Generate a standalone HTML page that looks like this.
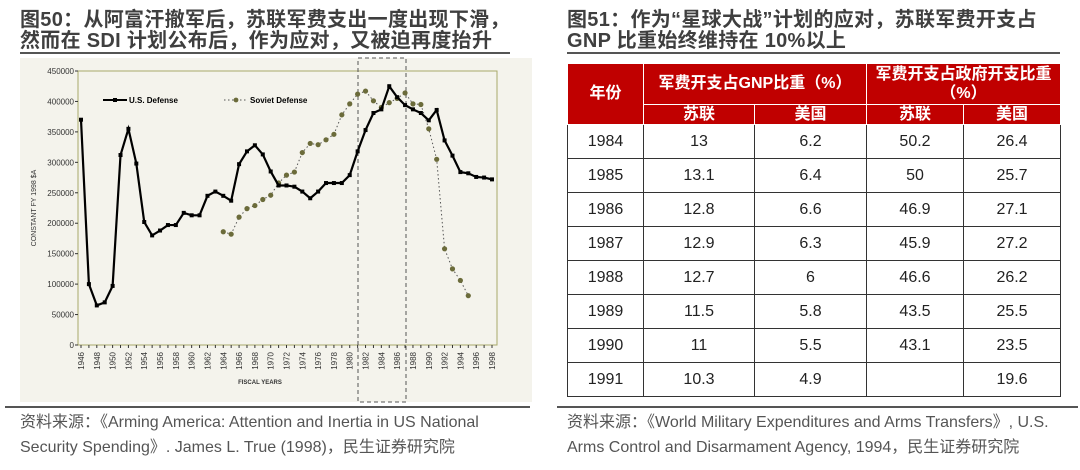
<!DOCTYPE html>
<html><head><meta charset="utf-8"><style>
body{margin:0;width:1080px;height:470px;background:#fff;overflow:hidden;position:relative;font-family:"Liberation Sans","Noto Sans CJK SC",sans-serif}
.title{position:absolute;font-size:20px;font-weight:bold;color:#3f3f3f;line-height:21px;letter-spacing:0.3px}
.rule{position:absolute;height:2px;background:#555}
.foot{position:absolute;font-family:"Liberation Sans Narrow","Liberation Sans","Noto Sans CJK SC",sans-serif;font-size:16px;color:#555;line-height:25px}
table{position:absolute;left:567px;top:63px;border-collapse:collapse;font-size:16px;color:#222;table-layout:fixed;width:493px}
td{border:1px solid #333;text-align:center;padding:0;line-height:16px}
.h td{background:#c00000;color:#fff;font-weight:bold;border-color:#fff}
</style></head><body>
<div class="title" style="left:20px;top:10px">图50：从阿富汗撤军后，苏联军费支出一度出现下滑，<br>然而在 SDI 计划公布后，作为应对，又被迫再度抬升</div>
<div class="rule" style="left:20px;top:52px;width:490px"></div>
<div class="title" style="left:567px;top:10px">图51：作为“星球大战”计划的应对，苏联军费开支占<br>GNP 比重始终维持在 10%以上</div>
<div class="rule" style="left:567px;top:52px;width:493px"></div>

<svg style="position:absolute;left:0;top:0" width="540" height="410" id="chart"></svg>

<table>
<colgroup><col style="width:76px"><col style="width:111px"><col style="width:112px"><col style="width:97px"><col style="width:97px"></colgroup>
<tr class="h" style="height:41px"><td rowspan="2">年份</td><td colspan="2">军费开支占GNP比重（%）</td><td colspan="2" style="line-height:19px">军费开支占政府开支比重<br>（%）</td></tr>
<tr class="h" style="height:20px"><td>苏联</td><td>美国</td><td>苏联</td><td>美国</td></tr>
<tr style="height:34px"><td>1984</td><td>13</td><td>6.2</td><td>50.2</td><td>26.4</td></tr>
<tr style="height:34px"><td>1985</td><td>13.1</td><td>6.4</td><td>50</td><td>25.7</td></tr>
<tr style="height:34px"><td>1986</td><td>12.8</td><td>6.6</td><td>46.9</td><td>27.1</td></tr>
<tr style="height:34px"><td>1987</td><td>12.9</td><td>6.3</td><td>45.9</td><td>27.2</td></tr>
<tr style="height:34px"><td>1988</td><td>12.7</td><td>6</td><td>46.6</td><td>26.2</td></tr>
<tr style="height:34px"><td>1989</td><td>11.5</td><td>5.8</td><td>43.5</td><td>25.5</td></tr>
<tr style="height:34px"><td>1990</td><td>11</td><td>5.5</td><td>43.1</td><td>23.5</td></tr>
<tr style="height:34px"><td>1991</td><td>10.3</td><td>4.9</td><td></td><td>19.6</td></tr>
</table>

<div class="rule" style="left:5px;top:406px;width:525px"></div>
<div class="rule" style="left:557px;top:406px;width:521px"></div>
<div class="foot" style="left:20px;top:410px">资料来源：《Arming America: Attention and Inertia in US National<br>Security Spending》. James L. True (1998)，民生证券研究院</div>
<div class="foot" style="left:567px;top:410px">资料来源：《World Military Expenditures and Arms Transfers》, U.S.<br>Arms Control and Disarmament Agency, 1994，民生证券研究院</div>

<script>
const usYears=[1946,1947,1948,1949,1950,1951,1952,1953,1954,1955,1956,1957,1958,1959,1960,1961,1962,1963,1964,1965,1966,1967,1968,1969,1970,1971,1972,1973,1974,1975,1976,1977,1978,1979,1980,1981,1982,1983,1984,1985,1986,1987,1988,1989,1990,1991,1992,1993,1994,1995,1996,1997,1998];
const usValues=[370000,100000,65000,70000,97000,312000,355000,298000,202000,180000,188000,197000,197000,217000,213000,213000,245000,252000,245000,237000,297000,318000,328000,313000,285000,262000,262000,260000,252000,241000,252000,266000,266000,266000,279000,318000,353000,381000,387000,425000,407000,394000,387000,381000,369000,386000,336000,311000,284000,282000,276000,275000,272000];
const suYears=[1964,1965,1966,1967,1968,1969,1970,1971,1972,1973,1974,1975,1976,1977,1978,1979,1980,1981,1982,1983,1984,1985,1986,1987,1988,1989,1990,1991,1992,1993,1994,1995];
const suValues=[186000,182000,210000,224000,229000,239000,246000,266000,279000,284000,316000,331000,329000,337000,346000,378000,396000,412000,417000,401000,390000,398000,405000,414000,396000,395000,355000,305000,158000,125000,106000,81000];
const yTicks=[0,50000,100000,150000,200000,250000,300000,350000,400000,450000];
const xTickYears=[1946,1948,1950,1952,1954,1956,1958,1960,1962,1964,1966,1968,1970,1972,1974,1976,1978,1980,1982,1984,1986,1988,1990,1992,1994,1996,1998];

const NS='http://www.w3.org/2000/svg';
const svg=document.getElementById('chart');
const X=y=>81+(y-1946)*(492-81)/52;
const Y=v=>345-v*(345-71)/450000;
function mk(t,a,p){const e=document.createElementNS(NS,t);for(const k in a)e.setAttribute(k,a[k]);(p||svg).appendChild(e);return e;}

const bg=mk('rect',{x:20,y:58,width:512,height:344,fill:'#f4f3ec'});


const frame=mk('rect',{x:78,y:71,width:419,height:274,fill:'none',stroke:'#a9a86a','stroke-width':1});



yTicks.forEach(v=>{
  const t=mk('text',{x:74,y:Y(v)+3,'text-anchor':'end','font-size':8,fill:'#333'});
  t.textContent=v;
  
  
  mk('line',{x1:75,x2:78,y1:Y(v),y2:Y(v),stroke:'#333'});
});
usYears.forEach(y=>mk('line',{x1:X(y),x2:X(y),y1:345,y2:348,stroke:'#333'}));
xTickYears.forEach(y=>{
  const t=mk('text',{x:0,y:0,transform:`translate(${X(y)+3},352) rotate(-90)`,'text-anchor':'end','font-size':8,fill:'#333'});
  t.textContent=y;
  
  
});
const yt=mk('text',{x:0,y:0,transform:'translate(36,208) rotate(-90)','text-anchor':'middle','font-size':7,fill:'#333'});
yt.textContent='CONSTANT FY 1998 $A';


const xt=mk('text',{x:260,y:384,'text-anchor':'middle','font-size':6,'font-weight':'bold',fill:'#333'});
xt.textContent='FISCAL YEARS';



const box=mk('rect',{x:358,y:58,width:48,height:344,fill:'none',stroke:'#555','stroke-dasharray':'4,3','stroke-width':1});



const sl=mk('polyline',{points:suYears.map((y,i)=>X(y)+','+Y(suValues[i])).join(' '),fill:'none',stroke:'#555','stroke-width':1,'stroke-dasharray':'1.5,2.5'});


suYears.forEach((y,i)=>{
  const c=mk('circle',{cx:X(y),cy:Y(suValues[i]),r:2.6,fill:'#6b6b3a'});
  
  
});
const ul=mk('polyline',{points:usYears.map((y,i)=>X(y)+','+Y(usValues[i])).join(' '),fill:'none',stroke:'#000','stroke-width':2.2});


usYears.forEach((y,i)=>{
  const r=mk('rect',{x:X(y)-2,y:Y(usValues[i])-2,width:4,height:4,fill:'#000'});
  
  
});

mk('line',{x1:103,x2:127,y1:100,y2:100,stroke:'#000','stroke-width':2});
mk('rect',{x:113,y:98,width:4,height:4,fill:'#000'});
const l1=mk('text',{x:129,y:103,'font-size':8,'font-weight':'bold',fill:'#000'});
l1.textContent='U.S. Defense';


mk('line',{x1:224,x2:248,y1:100,y2:100,stroke:'#555','stroke-dasharray':'1.5,2.5'});
mk('circle',{cx:236,cy:100,r:2.4,fill:'#6b6b3a'});
const l2=mk('text',{x:250,y:103,'font-size':8,'font-weight':'bold',fill:'#000'});
l2.textContent='Soviet Defense';


</script>
</body></html>
